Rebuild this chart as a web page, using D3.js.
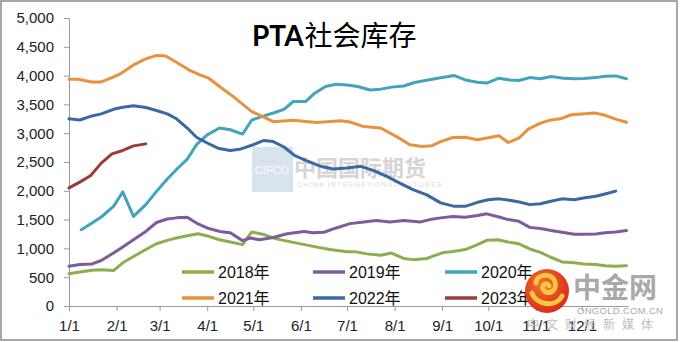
<!DOCTYPE html>
<html><head><meta charset="utf-8">
<script src="https://cdn.jsdelivr.net/npm/d3@7"></script>
<style>
html,body{margin:0;padding:0;background:#fff;}
svg{display:block;}
text{font-family:"Liberation Sans",Arial,"Noto Sans CJK SC",sans-serif;}
</style></head>
<body>
<svg id="chart" width="680" height="342"></svg>
<script>
const chartTitle = "社会库存";
const seriesNames = ["2018年","2019年","2020年","2021年","2022年","2023年"];
const seriesColors = ["#8DAE4F","#7C5C9C","#41A4BC","#E8923F","#3B68A3","#9B3C3A"];
const xTickLabels = ["1/1","2/1","3/1","4/1","5/1","6/1","7/1","8/1","9/1","10/1","11/1","12/1"];
const yTickValues = [0,500,1000,1500,2000,2500,3000,3500,4000,4500,5000];

const dates2018 = ["1/1","1/8","1/16","1/22","1/30","2/5","2/12","2/20","2/27","3/6","3/12","3/19","3/26","4/2","4/9","4/16","4/24","4/30","5/8","5/16","5/27","6/9","6/20","7/1","7/7","7/14","7/23","7/30","8/7","8/13","8/22","8/26","9/2","9/8","9/16","9/24","9/30","10/7","10/14","10/21","10/28","11/4","11/10","11/18","11/26","12/2","12/10","12/16","12/23","12/30"];
const values2018 = [560,590,620,630,615,750,860,980,1080,1140,1180,1220,1255,1210,1150,1110,1065,1285,1240,1165,1105,1035,980,940,940,905,880,920,825,805,825,865,930,945,980,1065,1140,1150,1110,1080,990,930,855,765,750,730,720,700,690,700];

const dates2019 = ["1/1","1/8","1/16","1/22","1/30","2/5","2/12","2/20","2/27","3/6","3/12","3/19","3/26","4/2","4/9","4/16","4/24","4/29","5/5","5/14","5/23","6/3","6/9","6/16","6/24","7/3","7/12","7/20","7/29","8/7","8/18","8/24","8/31","9/8","9/16","9/24","9/30","10/8","10/14","10/21","10/28","11/4","11/11","11/19","11/26","12/2","12/10","12/16","12/23","12/30"];
const values2019 = [690,720,730,790,920,1025,1150,1295,1450,1510,1530,1540,1425,1345,1295,1270,1135,1180,1150,1190,1255,1295,1270,1280,1355,1430,1460,1485,1460,1485,1460,1500,1530,1555,1540,1570,1600,1545,1500,1470,1365,1345,1310,1275,1245,1245,1250,1270,1285,1310];

const dates2020 = ["1/9","1/16","1/22","1/30","2/5","2/12","2/20","2/27","3/6","3/12","3/19","3/25","4/1","4/9","4/16","4/24","4/30","5/8","5/14","5/21","5/27","6/4","6/10","6/17","6/24","7/1","7/8","7/16","7/23","7/30","8/7","8/14","8/21","8/29","9/2","9/9","9/16","9/24","9/30","10/8","10/15","10/21","10/28","11/4","11/11","11/19","11/26","12/2","12/10","12/16","12/23","12/30"];
const values2020 = [1325,1440,1545,1730,1980,1555,1760,1990,2205,2370,2550,2800,2970,3090,3060,2985,3230,3300,3350,3415,3550,3550,3695,3810,3850,3835,3810,3750,3765,3800,3820,3880,3915,3955,3970,4000,3925,3885,3870,3955,3925,3915,3965,3945,3985,3955,3945,3950,3965,3990,3995,3945];

const dates2021 = ["1/1","1/7","1/16","1/22","1/29","2/4","2/12","2/20","2/27","3/5","3/13","3/21","3/27","4/2","4/9","4/18","4/30","5/8","5/14","5/27","6/11","6/27","7/3","7/12","7/23","8/2","8/11","8/19","8/25","8/31","9/8","9/16","9/24","10/1","10/8","10/14","10/21","10/27","11/4","11/10","11/17","11/24","12/1","12/9","12/15","12/23","12/30"];
const values2021 = [3935,3935,3890,3890,3965,4040,4185,4290,4350,4340,4215,4085,4015,3955,3810,3635,3375,3280,3200,3225,3185,3215,3195,3115,3090,2945,2800,2770,2780,2855,2925,2930,2885,2920,2955,2840,2915,3070,3175,3225,3250,3320,3335,3350,3320,3245,3190];

const dates2022 = ["1/1","1/8","1/16","1/22","1/30","2/5","2/12","2/20","2/27","3/6","3/12","3/19","3/25","4/1","4/8","4/16","4/22","5/1","5/8","5/14","5/21","5/28","6/5","6/14","6/22","7/1","7/10","7/18","7/27","8/5","8/13","8/22","8/31","9/9","9/16","9/24","10/1","10/8","10/15","10/22","10/28","11/4","11/10","11/18","11/26","12/2","12/10","12/16","12/23"];
const values2022 = [3250,3230,3300,3335,3415,3450,3475,3445,3395,3335,3250,3090,2930,2830,2740,2700,2720,2800,2875,2855,2760,2610,2520,2425,2380,2395,2425,2355,2250,2125,2020,1930,1790,1730,1730,1800,1845,1860,1835,1800,1760,1775,1815,1860,1845,1875,1905,1945,1995];

const dates2023 = ["1/1","1/8","1/15","1/22","1/29","2/5","2/12","2/20"];
const values2023 = [2050,2150,2260,2480,2640,2700,2780,2815];

const parse = s => { const [m,d] = s.split("/").map(Number); return new Date(1900, m-1, d); };
const allDates = [dates2018,dates2019,dates2020,dates2021,dates2022,dates2023];
const allValues = [values2018,values2019,values2020,values2021,values2022,values2023];
const series = seriesNames.map((name,i) => ({
  name, color: seriesColors[i],
  points: allDates[i].map((d,j) => ({date: parse(d), value: allValues[i][j]}))
}));

const svg = d3.select("#chart");
const margin = {left:69, right:52, top:18, bottom:36};
const W = 680, H = 342;

const x = d3.scaleTime().domain([new Date(1900,0,1), new Date(1900,11,31)]).range([margin.left, W - margin.right]);
const y = d3.scaleLinear().domain([0,5000]).range([H - margin.bottom, margin.top]);

// outer border
svg.append("rect").attr("x",1).attr("y",1).attr("width",676).attr("height",339)
  .attr("fill","#fff").attr("stroke","#8c8c8c").attr("stroke-width",1.5);

// watermark (center)
const wm = svg.append("g").attr("opacity",0.55);
wm.append("rect").attr("x",252).attr("y",147).attr("width",41).attr("height",45).attr("fill","#b8cde0");
wm.append("text").attr("x",272).attr("y",174).attr("text-anchor","middle").attr("fill","#fff")
  .attr("font-size",11).attr("font-family","Liberation Serif").text("CIFCO");
wm.append("text").attr("x",294).attr("y",176).attr("fill","#b4b4b4").attr("font-size",22)
  .attr("font-weight","bold").attr("font-family","Noto Sans CJK SC").text("中国国际期货");
wm.append("text").attr("x",297).attr("y",187).attr("fill","#bdbdbd").attr("font-size",6.5)
  .attr("letter-spacing",1.5).attr("font-family","Liberation Serif").text("CHINA INTERNATIONAL FUTURES");

// axes
const yAxis = d3.axisLeft(y).tickValues(yTickValues).tickFormat(d3.format(",")).tickSize(5).tickPadding(10);
const gy = svg.append("g").attr("transform",`translate(${margin.left},0)`).call(yAxis);
gy.select(".domain").attr("stroke","#9a9a9a");
gy.selectAll(".tick line").attr("stroke","#9a9a9a");
gy.selectAll("text").attr("font-size",15).attr("fill","#222").attr("font-family","Liberation Sans");

const xTicks = xTickLabels.map(parse);
const xAxis = d3.axisBottom(x).tickValues(xTicks).tickFormat(d => xTickLabels[xTicks.findIndex(t => +t === +d)]).tickSize(5).tickPadding(9).tickSizeOuter(0);
const gx = svg.append("g").attr("transform",`translate(0,${H - margin.bottom})`).call(xAxis);
gx.select(".domain").attr("stroke","#9a9a9a");
gx.selectAll(".tick line").attr("stroke","#9a9a9a");
gx.selectAll("text").attr("font-size",15).attr("fill","#222").attr("font-family","Liberation Sans");

// lines
const line = d3.line().x(d => x(d.date)).y(d => y(d.value)).curve(d3.curveLinear);
svg.append("g").selectAll("path").data(series).join("path")
  .attr("d", d => line(d.points)).attr("fill","none").attr("stroke", d => d.color)
  .attr("stroke-width",3).attr("stroke-linejoin","round").attr("stroke-linecap","round");

// title
const t = svg.append("text").attr("x",252).attr("y",46).attr("font-size",28).attr("fill","#000");
t.append("tspan").attr("font-weight","bold").attr("font-family","Lato").text("PTA");
t.append("tspan").attr("font-family","Noto Sans CJK SC").attr("dx",1).text(chartTitle);

// legend
const legCols = [182, 313, 445], legRows = [272, 298];
const lg = svg.append("g").selectAll("g").data(series).join("g")
  .attr("transform",(d,i) => `translate(${legCols[i%3]},${legRows[Math.floor(i/3)]})`);
lg.append("line").attr("x1",0).attr("x2",32).attr("y1",0).attr("y2",0)
  .attr("stroke",d => d.color).attr("stroke-width",3.5);
lg.append("text").attr("x",36).attr("y",6).attr("font-size",16).attr("fill","#111")
  .attr("font-family","Liberation Sans, Noto Sans CJK SC").text(d => d.name);

// bottom-right logo watermark
const logo = svg.append("g");
const grad = svg.append("defs").append("radialGradient").attr("id","lg1").attr("cx","40%").attr("cy","35%").attr("r","70%");
grad.append("stop").attr("offset","0%").attr("stop-color","#f2702a");
grad.append("stop").attr("offset","100%").attr("stop-color","#d8291c");
logo.append("circle").attr("cx",547).attr("cy",291).attr("r",22).attr("fill","url(#lg1)");
logo.append("path").attr("d","M536,283 C536,274 552,272 555,282 C558,292 546,296 543,289 C541,284 548,282 549,286 M532,293 C536,305 556,308 562,296")
  .attr("fill","none").attr("stroke","#f7c542").attr("stroke-width",5).attr("stroke-linecap","round");
logo.append("text").attr("x",573).attr("y",298).attr("font-size",28).attr("font-weight","bold")
  .attr("fill","#a9a9a9").attr("font-family","Noto Sans CJK SC").text("中金网");
logo.append("text").attr("x",577).attr("y",314).attr("font-size",9.5).attr("fill","#aaaaaa")
  .attr("font-family","Liberation Sans").attr("letter-spacing",0.3).text("ONGOLD.COM.CN");
logo.append("text").attr("x",527).attr("y",329).attr("font-size",12).attr("fill","#c0c0c0")
  .attr("font-family","Noto Sans CJK SC").attr("letter-spacing",7).text("中文财经新媒体");
</script>
</body></html>
